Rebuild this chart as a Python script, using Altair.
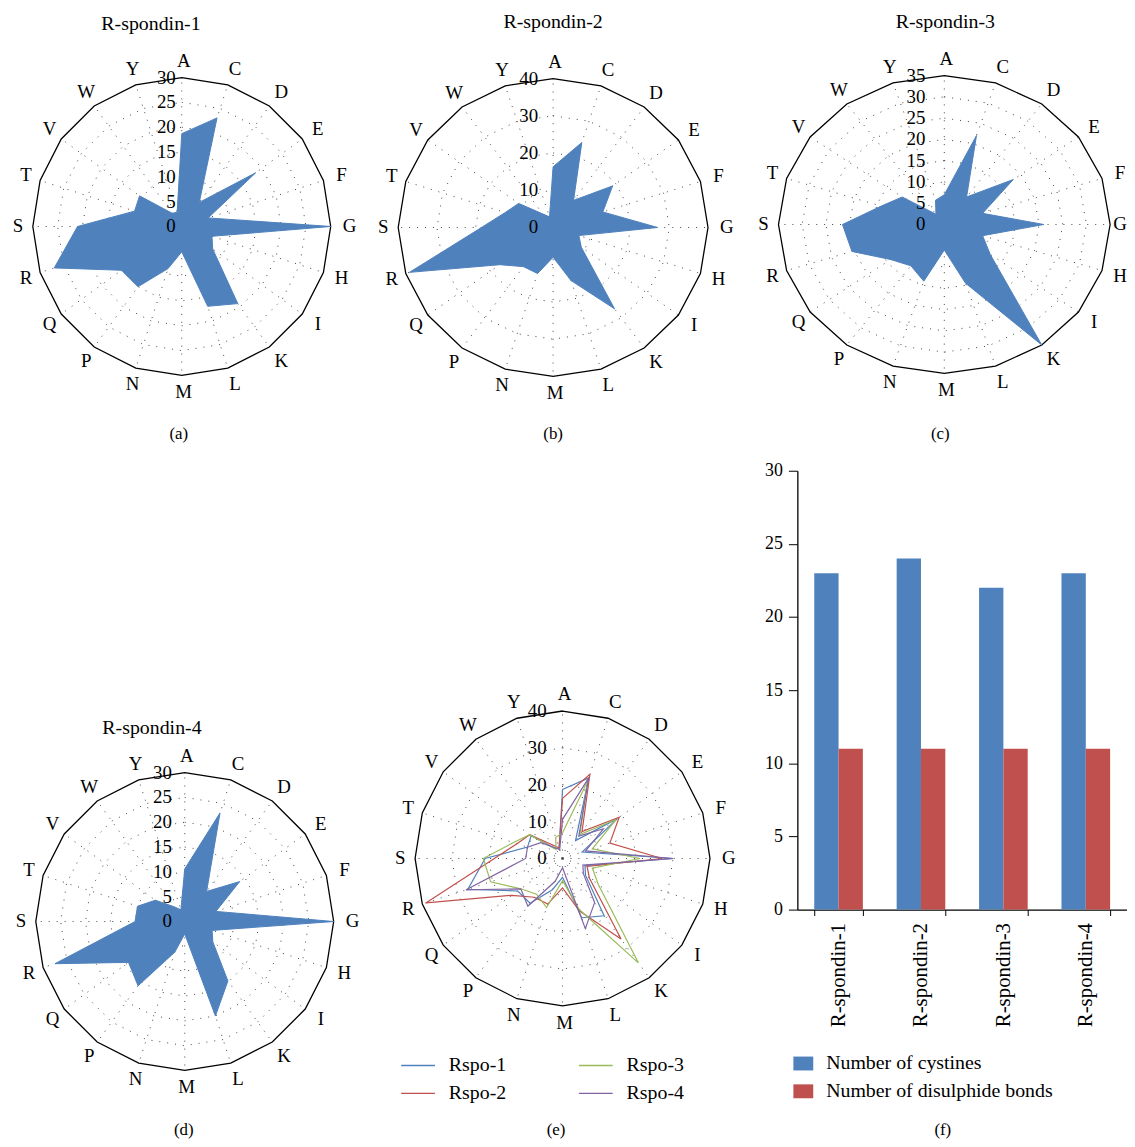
import altair as alt
import pandas as pd

# ---------------- data ----------------
cats = ["A", "C", "D", "E", "F", "G", "H", "I", "K", "L",
        "M", "N", "P", "Q", "R", "S", "T", "V", "W", "Y"]

rspo1 = [18.7, 23, 6, 18.4, 5.6, 30, 6.4, 7.7, 19.2, 16.9,
         5.1, 8.9, 15, 15, 27, 21, 10, 10.5, 3.3, 3]
rspo2 = [16.3, 24, 9, 19, 13.5, 27, 7, 9, 27, 15,
         8, 13, 13, 17, 39, 18.5, 13, 11, 4.5, 3]
rspo3 = [7, 22, 8, 18, 8.5, 21, 8.5, 12, 35, 14.5,
         6, 14, 12, 14, 20.5, 21.5, 14, 11, 3, 6]
rspo4 = [10.6, 23, 7.5, 13.7, 6.6, 30, 5.8, 7, 14.8, 20,
         2.5, 6.5, 16, 14, 27.5, 10, 10, 7.3, 3.7, 2.5]

ticks_a = [0, 5, 10, 15, 20, 25, 30]
ticks_b = [0, 10, 20, 30, 40]
ticks_c = [0, 5, 10, 15, 20, 25, 30, 35]
ticks_d = [0, 5, 10, 15, 20, 25, 30]
ticks_e = [0, 10, 20, 30, 40]

series_names = ["Rspo-1", "Rspo-2", "Rspo-3", "Rspo-4"]
series_colors = ["#4F81BD", "#C0504D", "#9BBB59", "#8064A2"]

proteins = ["R-spondin-1", "R-spondin-2", "R-spondin-3", "R-spondin-4"]
cystines = [23, 24, 22, 23]
disulphide = [11, 11, 11, 11]
measures = ["Number of cystines", "Number of disulphide bonds"]
ticks_f = [0, 5, 10, 15, 20, 25, 30]

FONT = "Liberation Serif"
GRID = "#444444"
BLUE = "#4F81BD"


def radar(W, H, cx, cy, rx, ry, rmax, ticks, tick_dx, caption, cpos,
          title=None, tpos=None, values=None, series=None, xclamp=None):
    xdom = [-cx / rx * rmax, (W - cx) / rx * rmax]
    ydom = [-(H - cy) / ry * rmax, cy / ry * rmax]
    xs = alt.Scale(domain=xdom, nice=False, zero=False)
    ys = alt.Scale(domain=ydom, nice=False, zero=False)

    def X(f):
        return alt.X(f"{f}:Q", scale=xs, axis=None)

    def Y(f):
        return alt.Y(f"{f}:Q", scale=ys, axis=None)

    th = "(datum.idx * PI / 10)"
    n = len(cats)
    cat_df = pd.DataFrame({"cat": cats, "idx": list(range(n))})
    ring_vals = [t for t in ticks if 0 < t < rmax]
    ring_df = pd.DataFrame({
        "ring": [r for r in ring_vals for _ in cats],
        "idx": [i for _ in ring_vals for i in range(n)],
    })
    layers = []
    # dotted rings
    layers.append(
        alt.Chart(ring_df)
        .transform_calculate(px=f"datum.ring*sin({th})", py=f"datum.ring*cos({th})")
        .mark_line(interpolate="linear-closed", stroke=GRID, strokeWidth=1,
                   strokeDash=[1, 7])
        .encode(x=X("px"), y=Y("py"), detail="ring:N", order="idx:Q")
    )
    # dotted spokes
    layers.append(
        alt.Chart(cat_df)
        .transform_calculate(px="0", py="0",
                             ex=f"{rmax}*sin({th})", ey=f"{rmax}*cos({th})")
        .mark_rule(stroke=GRID, strokeWidth=1, strokeDash=[1, 7])
        .encode(x=X("px"), y=Y("py"), x2="ex:Q", y2="ey:Q")
    )
    # outer polygon
    layers.append(
        alt.Chart(cat_df)
        .transform_calculate(px=f"{rmax}*sin({th})", py=f"{rmax}*cos({th})")
        .mark_line(interpolate="linear-closed", stroke="black", strokeWidth=1.3)
        .encode(x=X("px"), y=Y("py"), order="idx:Q")
    )
    if values is not None:
        vdf = pd.DataFrame({"cat": cats, "idx": list(range(n)), "value": values})
        layers.append(
            alt.Chart(vdf)
            .transform_calculate(px=f"datum.value*sin({th})", py=f"datum.value*cos({th})")
            .mark_line(interpolate="linear-closed", fill=BLUE, stroke=BLUE,
                       strokeWidth=1)
            .encode(x=X("px"), y=Y("py"), order="idx:Q")
        )
    if series is not None:
        rows = []
        for name, vals in series:
            for i, v in enumerate(vals):
                rows.append({"series": name, "idx": i, "value": v})
        sdf = pd.DataFrame(rows)
        layers.append(
            alt.Chart(sdf)
            .transform_calculate(px=f"datum.value*sin({th})", py=f"datum.value*cos({th})")
            .mark_line(interpolate="linear-closed", strokeWidth=1.2)
            .encode(
                x=X("px"), y=Y("py"), order="idx:Q",
                color=alt.Color(
                    "series:N",
                    scale=alt.Scale(domain=series_names, range=series_colors),
                    legend=alt.Legend(
                        title=None, orient="none", legendX=25, legendY=602,
                        columns=2, direction="vertical", symbolType="stroke",
                        symbolSize=1156, symbolStrokeWidth=1.3, labelFont=FONT,
                        labelFontSize=20, labelColor="black", labelOffset=13,
                        columnPadding=70, rowPadding=-7, padding=0,
                    ),
                ),
            )
        )
    # tick labels along the A spoke
    tdf = pd.DataFrame({"t": ticks, "label": [str(t) for t in ticks]})
    layers.append(
        alt.Chart(tdf)
        .transform_calculate(px="0", py=f"min(datum.t, {rmax})")
        .mark_text(align="right", baseline="middle", dx=tick_dx, font=FONT,
                   fontSize=19, color="black")
        .encode(x=X("px"), y=Y("py"), text="label:N")
    )
    # category labels
    kx = rmax * (rx + 17) / rx
    ky = rmax * (ry + 17) / ry
    lx = f"{kx}*sin({th})"
    if xclamp is not None:
        lx = f"min({lx}, {xclamp / rx * rmax - cx / rx * rmax})"
    layers.append(
        alt.Chart(cat_df)
        .transform_calculate(px=lx, py=f"{ky}*cos({th})")
        .mark_text(align="center", baseline="middle", dx=2, font=FONT,
                   fontSize=19, color="black")
        .encode(x=X("px"), y=Y("py"), text="cat:N")
    )
    if title is not None:
        layers.append(
            alt.Chart(pd.DataFrame({"t": [title]}))
            .mark_text(align="center", baseline="middle", font=FONT, fontSize=20,
                       color="black")
            .encode(x=alt.value(tpos[0]), y=alt.value(tpos[1]), text="t:N")
        )
    layers.append(
        alt.Chart(pd.DataFrame({"t": [caption]}))
        .mark_text(align="center", baseline="middle", font=FONT, fontSize=17,
                   color="black")
        .encode(x=alt.value(cpos[0]), y=alt.value(cpos[1]), text="t:N")
    )
    return alt.layer(*layers).properties(width=W, height=H)


pa = radar(370, 440, 175, 215, 150, 150, 30, ticks_a, -6, "(a)", (172, 424),
           title="R-spondin-1", tpos=(144, 11), values=rspo1)
pb = radar(425, 440, 179, 216, 156, 150, 40, ticks_b, -15, "(b)", (179, 424),
           title="R-spondin-2", tpos=(179, 9), values=rspo2)
pc = radar(332, 440, 148, 213, 167, 150, 35, ticks_c, -19, "(c)", (144, 424),
           title="R-spondin-3", tpos=(149, 9), values=rspo3, xclamp=323)
pd_ = radar(370, 691, 178, 475, 150, 150, 30, ticks_d, -13, "(d)", (177, 685),
            title="R-spondin-4", tpos=(145, 280), values=rspo4)
pe = radar(425, 691, 188.5, 411.5, 148.5, 148.5, 40, ticks_e, -16, "(e)", (182, 685),
           series=list(zip(series_names, [rspo1, rspo2, rspo3, rspo4])))

# ---------------- bar chart (f) ----------------
bar_df = pd.DataFrame({
    "protein": proteins * 2,
    "measure": [measures[0]] * len(proteins) + [measures[1]] * len(proteins),
    "count": cystines + disulphide,
})
pf = alt.Chart(bar_df).mark_bar().encode(
    x=alt.X(
        "protein:N", sort=proteins,
        scale=alt.Scale(paddingInner=0.41, paddingOuter=0.205),
        axis=alt.Axis(
            title="(f)", titleY=222, titleX=146, titleBaseline="middle",
            titleFont=FONT, titleFontSize=17, titleFontWeight="normal",
            titleColor="black", labelAngle=-90, labelFont=FONT, labelFontSize=21,
            labelColor="black", labelPadding=7, tickBand="extent", tickSize=6,
            tickColor="black", domainColor="black", domainWidth=1.3,
        ),
    ),
    xOffset=alt.XOffset("measure:N", sort=measures),
    y=alt.Y(
        "count:Q", scale=alt.Scale(domain=[0, 30], nice=False, range=[463, 21]),
        axis=alt.Axis(values=ticks_f, title=None, grid=False, tickSize=9,
                      tickColor="black", domainColor="black", domainWidth=1.3,
                      labelFont=FONT, labelFontSize=18, labelColor="black",
                      labelPadding=6),
    ),
    color=alt.Color(
        "measure:N", sort=measures,
        scale=alt.Scale(domain=measures, range=["#4F81BD", "#C0504D"]),
        legend=alt.Legend(title=None, orient="none", legendX=-4, legendY=608,
                          symbolType="M-1,-0.7H1V0.7H-1Z", symbolSize=400,
                          symbolStrokeWidth=0, labelFont=FONT, labelFontSize=20,
                          labelColor="black", labelLimit=0, rowPadding=8,
                          labelOffset=13, padding=0, direction="vertical"),
    ),
).properties(width=332, height=463)

chart = (
    alt.concat(pa, pb, pc, pd_, pe, pf, columns=3, spacing=0, bounds="flush")
    .resolve_scale(x="independent", y="independent", color="independent")
    .properties(padding=0)
    .configure_view(strokeWidth=0)
)

chart.save("out.html", embed_options={"renderer": "svg", "actions": False})
